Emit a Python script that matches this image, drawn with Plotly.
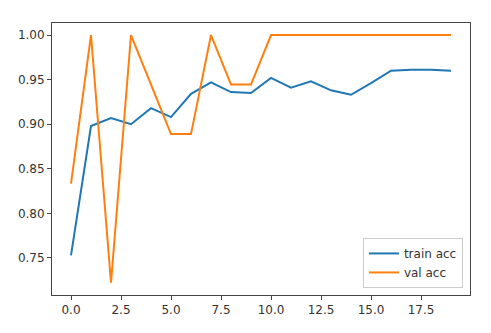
import plotly.graph_objects as go

epochs = list(range(20))
train_acc = [0.753, 0.898, 0.907, 0.900, 0.918, 0.908, 0.934, 0.947, 0.936, 0.935,
             0.952, 0.941, 0.948, 0.938, 0.933, 0.946, 0.960, 0.961, 0.961, 0.960]
val_acc = [0.8333, 1.0, 0.7222, 1.0, 0.9444, 0.8889, 0.8889, 1.0, 0.9444, 0.9444,
           1.0, 1.0, 1.0, 1.0, 1.0, 1.0, 1.0, 1.0, 1.0, 1.0]
x_ticks = [0.0, 2.5, 5.0, 7.5, 10.0, 12.5, 15.0, 17.5]
y_ticks = [0.75, 0.80, 0.85, 0.90, 0.95, 1.00]

fig = go.Figure()
fig.add_trace(go.Scatter(x=epochs, y=train_acc, mode="lines", name="train acc",
                         line=dict(color="#1f77b4", width=2)))
fig.add_trace(go.Scatter(x=epochs, y=val_acc, mode="lines", name="val acc",
                         line=dict(color="#ff7f0e", width=2)))

axis_common = dict(showgrid=False, zeroline=False, showline=True, mirror=True,
                   linecolor="#444", linewidth=1, ticks="outside", ticklen=4,
                   tickcolor="#444", tickfont=dict(family="DejaVu Sans", size=12, color="#333"))

fig.update_layout(
    width=491, height=333,
    margin=dict(l=52, r=21, t=23, b=38),
    plot_bgcolor="white", paper_bgcolor="white",
    xaxis=dict(range=[-0.95, 19.95], tickvals=x_ticks,
               ticktext=[f"{v:.1f}" for v in x_ticks], **axis_common),
    yaxis=dict(range=[0.7085, 1.0135], tickvals=y_ticks,
               ticktext=[f"{v:.2f}" for v in y_ticks], **axis_common),
    legend=dict(x=0.983, y=0.026, xanchor="right", yanchor="bottom",
                bordercolor="#cccccc", borderwidth=1, bgcolor="white",
                font=dict(family="DejaVu Sans", size=12, color="#333"),
                tracegroupgap=0, itemwidth=30),
    showlegend=True,
)

fig.write_html("out.html")
